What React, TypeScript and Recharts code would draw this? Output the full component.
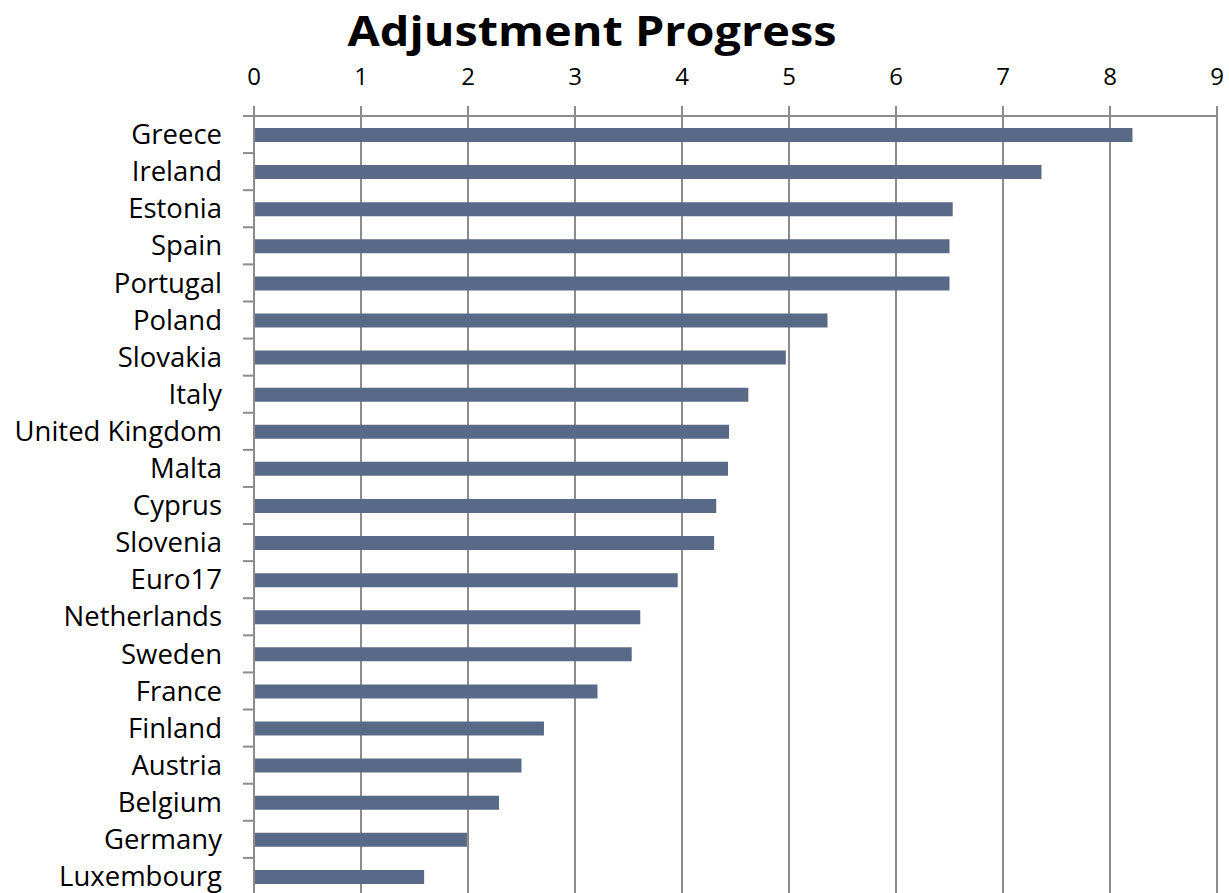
import React from 'react'
import { BarChart, Bar, XAxis, YAxis, CartesianGrid } from 'recharts'

// country names, top to bottom
const countries = [
  'Greece', 'Ireland', 'Estonia', 'Spain', 'Portugal', 'Poland', 'Slovakia', 'Italy',
  'United Kingdom', 'Malta', 'Cyprus', 'Slovenia', 'Euro17', 'Netherlands', 'Sweden',
  'France', 'Finland', 'Austria', 'Belgium', 'Germany', 'Luxembourg',
]

// adjustment progress score
const progress = [
  8.21, 7.36, 6.53, 6.5, 6.5, 5.36, 4.97, 4.62, 4.44, 4.43, 4.32, 4.3, 3.96, 3.61, 3.53,
  3.21, 2.71, 2.5, 2.29, 1.99, 1.59,
]

const xTicks = [0, 1, 2, 3, 4, 5, 6, 7, 8, 9]

const data = countries.map((name, i) => ({ name, value: progress[i] }))

const GRID = '#8c8c8c'
const FONT = '"Open Sans", "Noto Sans", sans-serif'

// label on the left + short tick on the band boundary (Excel style)
const CountryTick = (props: any) => {
  const { x, y, payload, index } = props
  const half = payload?.offset ?? 18.5
  const last = index === countries.length - 1
  return (
    <g>
      <line x1={x - 11} x2={x} y1={y - half} y2={y - half} stroke={GRID} strokeWidth={2} />
      {last && <line x1={x - 11} x2={x} y1={y + half} y2={y + half} stroke={GRID} strokeWidth={2} />}
      <text x={x - 32} y={y} dy="0.35em" textAnchor="end" fontSize={27.5} fill="#000" fontFamily={FONT}>
        {payload.value}
      </text>
    </g>
  )
}

export default function App() {
  return (
    <div style={{ position: 'absolute', left: 0, top: 0, width: 1229, height: 893, overflow: 'hidden', background: '#fff' }}>
      <svg width={1229} height={80} style={{ position: 'absolute', left: 0, top: 0 }}>
        <text x={592} y={46} textAnchor="middle" fontSize={42} fontWeight={700} fontFamily={FONT}
          textLength={489} lengthAdjust="spacingAndGlyphs" fill="#000">
          Adjustment Progress
        </text>
      </svg>
      <BarChart
        width={1229}
        height={900}
        data={data}
        layout="vertical"
        margin={{ top: 76, right: 12, bottom: 5, left: 0 }}
        barCategoryGap={0}
      >
        <CartesianGrid horizontal={false} stroke={GRID} strokeWidth={2} strokeOpacity={1} />
        <XAxis
          type="number"
          orientation="top"
          domain={[0, 9]}
          ticks={xTicks}
          interval={0}
          height={40}
          tickSize={10}
          tickMargin={21}
          axisLine={{ stroke: GRID, strokeWidth: 2 }}
          tickLine={{ stroke: GRID, strokeWidth: 2 }}
          tick={{ fill: '#000', fontSize: 24, fontFamily: FONT }}
        />
        <YAxis
          type="category"
          dataKey="name"
          width={254}
          interval={0}
          tickSize={0}
          tickMargin={0}
          axisLine={{ stroke: GRID, strokeWidth: 2 }}
          tickLine={false}
          tick={<CountryTick />}
        />
        <Bar dataKey="value" fill="#586a87" barSize={14} isAnimationActive={false} />
      </BarChart>
    </div>
  )
}
